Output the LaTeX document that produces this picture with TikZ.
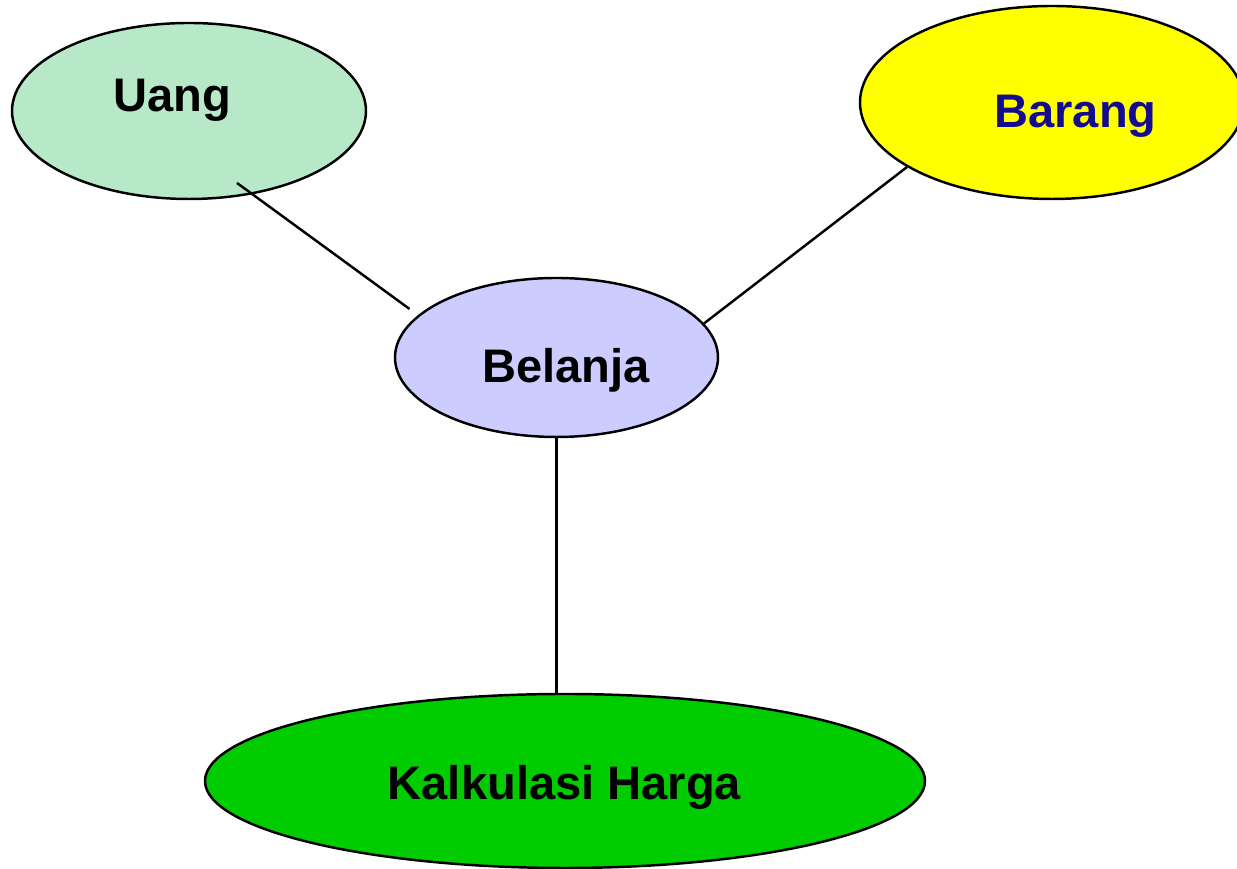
\documentclass[tikz,border=0pt]{standalone}
\usepackage{fontspec}
\setmainfont{Liberation Sans}
\usepackage{xcolor}
\usepackage{tikz}
\usetikzlibrary{shapes.geometric}
\definecolor{uangfill}{HTML}{B7E8C7}
\definecolor{barangfill}{HTML}{FFFF00}
\definecolor{belanjafill}{HTML}{CCCCFF}
\definecolor{hargafill}{HTML}{00CC00}
\definecolor{barangtext}{HTML}{140C8C}
\tikzset{
  blob/.style={ellipse, draw=black, line width=0.7pt, inner sep=0pt},
  link/.style={line width=0.7pt, draw=black},
  lab/.style={anchor=base, font=\fontsize{13.4}{16}\selectfont\bfseries},
}

\begin{document}
\begin{tikzpicture}
  \clip (0,0) rectangle (12.37,8.69);

  \node[blob, fill=uangfill, minimum width=3.54cm, minimum height=1.76cm] (uang) at (1.89,7.58) {};
  \node[blob, fill=barangfill, minimum width=3.84cm, minimum height=1.93cm] (barang) at (10.52,7.665) {};
  \node[blob, fill=belanjafill, minimum width=3.23cm, minimum height=1.59cm] (belanja) at (5.565,5.115) {};
  \node[blob, fill=hargafill, minimum width=7.20cm, minimum height=1.74cm] (harga) at (5.65,0.88) {};

  \node[lab] (uanglab) at (1.725,7.57) {Uang};
  \node[lab, text=barangtext] (baranglab) at (10.755,7.41) {Barang};
  \node[lab] (belanjalab) at (5.66,4.86) {Belanja};
  \node[lab] (hargalab) at (5.645,0.69) {Kalkulasi Harga};

  \coordinate (uangtail) at (2.37,6.86); % line starts inside Uang
  \draw[link, shorten >=3pt] (uangtail) -- (belanja.163);
  \draw[link] (barang.204) -- (belanja.13);
  \draw[link] (belanja.south) -- (belanja.south |- harga.north);
\end{tikzpicture}
\end{document}
